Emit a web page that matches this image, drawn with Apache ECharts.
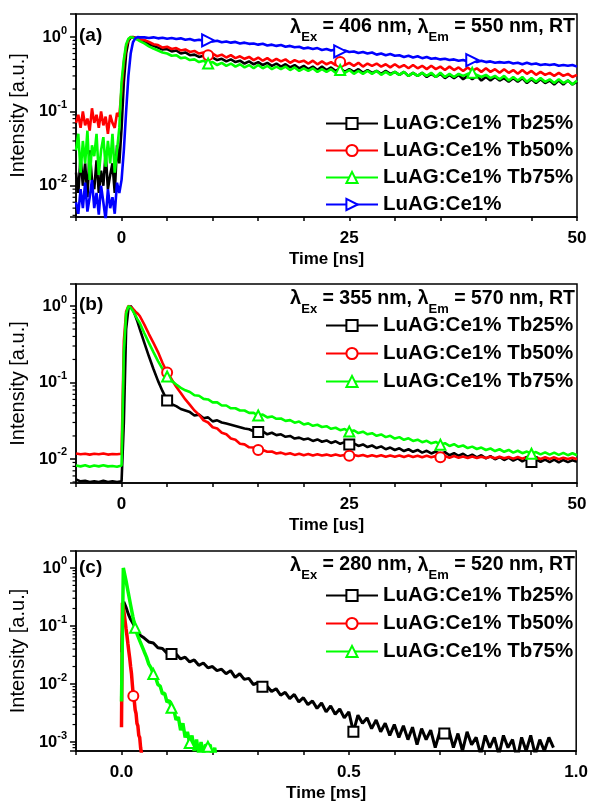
<!DOCTYPE html>
<html>
<head>
<meta charset="utf-8">
<script src="https://cdn.jsdelivr.net/npm/echarts@6/dist/echarts.min.js"></script>
<style>html,body{margin:0;padding:0;background:#fff}#chart{width:591px;height:803px}</style>
</head>
<body>
<div id="chart"></div>
<script>
// ---------------- DATA ----------------
const names4 = ['LuAG:Ce1% Tb25%', 'LuAG:Ce1% Tb50%', 'LuAG:Ce1% Tb75%', 'LuAG:Ce1%'];
const annotations = [
  ['406', '550'],
  ['355', '570'],
  ['280', '520']
];
const panelLabels = ['(a)', '(b)', '(c)'];
const xTitles = ['Time [ns]', 'Time [us]', 'Time [ms]'];
const yTitle = 'Intensity [a.u.]';
const minorTickVals = [0.0008,0.0009,0.002,0.003,0.004,0.005,0.006,0.007,0.008,0.009,
  0.02,0.03,0.04,0.05,0.06,0.07,0.08,0.09,0.2,0.3,0.4,0.5,0.6,0.7,0.8,0.9];

// Panel (a): time in ns
const timeA = [-5,-4.75,-4.5,-4.25,-4,-3.75,-3.5,-3.25,-3,-2.75,-2.5,-2.25,-2,-1.75,-1.5,-1.25,-1,-0.75,-0.5,-0.25,
  0,0.25,0.5,0.75,1,1.25,1.5,1.75,2,
  2.5,3,3.5,4,4.5,5,5.5,6,6.5,7,
  7.5,8,8.5,9,9.5,10,10.5,11,11.5,12,
  12.5,13,13.5,14,14.5,15,15.5,16,16.5,17,
  17.5,18,18.5,19,19.5,20,20.5,21,21.5,22,
  22.5,23,23.5,24,24.5,25,25.5,26,26.5,27,
  27.5,28,28.5,29,29.5,30,30.5,31,31.5,32,
  32.5,33,33.5,34,34.5,35,35.5,36,36.5,37,
  37.5,38,38.5,39,39.5,40,40.5,41,41.5,42,
  42.5,43,43.5,44,44.5,45,45.5,46,46.5,47,
  47.5,48,48.5,49,49.5,50];
const aBlack = [0.015,0.008,0.025,0.01,0.02,0.007,0.03,0.012,0.009,0.022,0.008,0.016,0.01,0.028,0.009,0.014,0.02,0.008,0.035,0.02,
  0.06,0.25,0.6,0.88,0.98,1.0,0.98,0.95,0.92,
  0.86,0.80,0.76,0.72,0.68,0.69,0.64,0.66,0.60,0.62,
  0.57,0.58,0.54,0.56,0.51,0.53,0.49,0.51,0.47,0.50,
  0.46,0.48,0.44,0.47,0.43,0.46,0.42,0.45,0.41,0.44,
  0.40,0.43,0.39,0.42,0.38,0.41,0.37,0.40,0.36,0.40,
  0.36,0.39,0.35,0.38,0.34,0.37,0.34,0.37,0.33,0.36,
  0.33,0.35,0.32,0.35,0.32,0.34,0.31,0.34,0.30,0.33,
  0.30,0.33,0.29,0.32,0.29,0.32,0.28,0.31,0.28,0.31,
  0.27,0.30,0.27,0.30,0.26,0.29,0.26,0.29,0.26,0.28,
  0.25,0.28,0.25,0.28,0.24,0.27,0.24,0.27,0.24,0.26,
  0.23,0.26,0.23,0.26,0.23,0.25];
const aRed = [0.07,0.09,0.06,0.1,0.065,0.08,0.055,0.11,0.07,0.09,0.06,0.1,0.065,0.085,0.05,0.09,0.07,0.06,0.095,0.085,
  0.2,0.45,0.75,0.92,1.0,0.99,0.97,0.95,0.93,
  0.91,0.86,0.80,0.78,0.72,0.74,0.69,0.71,0.66,0.68,
  0.63,0.65,0.60,0.62,0.57,0.60,0.55,0.58,0.53,0.57,
  0.52,0.55,0.51,0.54,0.49,0.53,0.48,0.52,0.47,0.51,
  0.47,0.50,0.45,0.49,0.46,0.48,0.44,0.48,0.43,0.47,
  0.43,0.46,0.42,0.46,0.42,0.45,0.41,0.45,0.40,0.44,
  0.41,0.44,0.40,0.43,0.39,0.43,0.39,0.42,0.38,0.42,
  0.38,0.41,0.37,0.41,0.37,0.40,0.36,0.40,0.36,0.39,
  0.35,0.39,0.35,0.38,0.34,0.38,0.34,0.37,0.33,0.37,
  0.33,0.36,0.32,0.36,0.32,0.35,0.31,0.34,0.31,0.33,
  0.30,0.33,0.30,0.32,0.29,0.31];
const aGreen = [0.03,0.05,0.015,0.04,0.02,0.055,0.012,0.035,0.025,0.05,0.014,0.03,0.045,0.018,0.04,0.02,0.05,0.015,0.03,0.06,
  0.25,0.5,0.8,0.95,1.0,0.98,0.95,0.92,0.88,
  0.82,0.75,0.70,0.66,0.62,0.60,0.56,0.57,0.52,0.53,
  0.49,0.50,0.46,0.48,0.44,0.46,0.42,0.45,0.41,0.44,
  0.40,0.43,0.39,0.42,0.38,0.42,0.38,0.41,0.37,0.40,
  0.37,0.40,0.36,0.39,0.35,0.38,0.35,0.38,0.34,0.37,
  0.34,0.37,0.33,0.36,0.33,0.36,0.32,0.35,0.32,0.35,
  0.32,0.35,0.31,0.34,0.31,0.34,0.31,0.34,0.30,0.33,
  0.30,0.33,0.30,0.33,0.29,0.33,0.29,0.32,0.29,0.32,
  0.30,0.32,0.33,0.31,0.29,0.31,0.28,0.30,0.27,0.30,
  0.26,0.29,0.26,0.29,0.25,0.28,0.25,0.28,0.25,0.27,
  0.24,0.27,0.24,0.26,0.23,0.26];
const aBlue = [0.006,0.0042,0.009,0.005,0.011,0.0045,0.007,0.012,0.005,0.008,0.0041,0.01,0.006,0.0035,0.009,0.005,0.007,0.0042,0.011,0.008,
  0.012,0.03,0.1,0.3,0.6,0.85,0.96,1.0,0.99,
  0.99,0.97,0.99,0.96,0.98,0.95,0.97,0.94,0.96,0.92,
  0.94,0.90,0.92,0.89,0.90,0.87,0.89,0.85,0.87,0.84,
  0.86,0.82,0.84,0.81,0.82,0.79,0.81,0.77,0.79,0.76,
  0.78,0.74,0.76,0.73,0.74,0.70,0.72,0.69,0.71,0.67,
  0.69,0.66,0.68,0.64,0.66,0.63,0.64,0.61,0.63,0.60,
  0.62,0.58,0.60,0.57,0.59,0.56,0.57,0.54,0.56,0.53,
  0.55,0.52,0.54,0.51,0.52,0.50,0.51,0.49,0.50,0.48,
  0.49,0.47,0.49,0.46,0.48,0.46,0.47,0.45,0.46,0.45,
  0.46,0.44,0.45,0.43,0.45,0.43,0.44,0.42,0.43,0.42,
  0.43,0.41,0.42,0.41,0.42,0.40];
const marksA = [[], [9.5, 24], [9.5, 24, 38.5], [9.5, 24, 38.5]];

// Panel (b): time in us
const timeB = [-5,-4.5,-4,-3.5,-3,-2.5,-2,-1.5,-1,-0.5,0,
  0.25,0.5,0.75,1,1.25,1.5,1.75,
  2,2.5,3,3.5,4,4.5,5,5.5,6,6.5,
  7,7.5,8,8.5,9,9.5,10,10.5,11,11.5,
  12,12.5,13,13.5,14,14.5,15,15.5,16,16.5,
  17,17.5,18,18.5,19,19.5,20,20.5,21,21.5,
  22,22.5,23,23.5,24,24.5,25,25.5,26,26.5,
  27,27.5,28,28.5,29,29.5,30,30.5,31,31.5,
  32,32.5,33,33.5,34,34.5,35,35.5,36,36.5,
  37,37.5,38,38.5,39,39.5,40,40.5,41,41.5,
  42,42.5,43,43.5,44,44.5,45,45.5,46,46.5,
  47,47.5,48,48.5,49,49.5,50];
const bBlack = [0.0054,0.0051,0.0052,0.005,0.0051,0.005,0.0052,0.005,0.0051,0.005,0.0051,
  0.03,0.5,0.92,1.0,0.9,0.75,0.62,
  0.50,0.33,0.22,0.15,0.105,0.077,0.058,0.052,0.049,0.045,
  0.043,0.041,0.037,0.038,0.034,0.035,0.031,0.032,0.030,0.029,
  0.028,0.027,0.026,0.025,0.0245,0.023,0.0225,0.023,0.021,0.022,
  0.0205,0.021,0.0195,0.020,0.0185,0.019,0.018,0.0185,0.0172,0.018,
  0.0168,0.0175,0.0162,0.017,0.0158,0.0166,0.0155,0.016,0.0148,0.0155,
  0.0143,0.015,0.0139,0.0146,0.0134,0.0141,0.0131,0.0138,0.0127,0.0134,
  0.0124,0.0131,0.0121,0.0128,0.0118,0.0125,0.0116,0.0123,0.0112,0.0119,
  0.011,0.0117,0.0107,0.0114,0.0105,0.0112,0.0102,0.0109,0.0099,0.0106,
  0.0097,0.0104,0.0095,0.0102,0.0093,0.0100,0.0091,0.0099,0.0092,0.0098,
  0.0091,0.0098,0.0090,0.0097,0.0091,0.0096,0.0092];
const bRed = [0.0118,0.0115,0.0117,0.0114,0.0117,0.0115,0.0118,0.0114,0.0116,0.0115,0.0117,
  0.35,0.85,1.0,0.97,0.92,0.85,0.8,
  0.74,0.57,0.43,0.33,0.25,0.18,0.135,0.11,0.088,0.073,
  0.060,0.051,0.043,0.038,0.032,0.030,0.026,0.025,0.022,0.021,
  0.0185,0.0178,0.0158,0.0155,0.0142,0.0141,0.0131,0.0131,0.0124,0.0125,
  0.0118,0.0121,0.0115,0.0119,0.0113,0.0117,0.0112,0.0116,0.0111,0.0115,
  0.0111,0.0114,0.0110,0.0114,0.0110,0.0113,0.0110,0.0113,0.0109,0.0113,
  0.0108,0.0112,0.0108,0.0112,0.0107,0.0111,0.0107,0.0111,0.0106,0.0111,
  0.0106,0.0110,0.0105,0.0110,0.0105,0.0109,0.0105,0.0109,0.0104,0.0109,
  0.0104,0.0108,0.0103,0.0108,0.0103,0.0107,0.0103,0.0107,0.0102,0.0107,
  0.0102,0.0106,0.0101,0.0106,0.0101,0.0106,0.0100,0.0105,0.0100,0.0105,
  0.0100,0.0105,0.0099,0.0104,0.0100,0.0104,0.0099];
const bGreen = [0.0082,0.0080,0.0083,0.0079,0.0082,0.0080,0.0083,0.0080,0.0081,0.0079,0.0082,
  0.25,0.8,1.0,0.95,0.86,0.76,0.67,
  0.60,0.44,0.33,0.25,0.19,0.15,0.12,0.105,0.094,0.085,
  0.079,0.075,0.068,0.067,0.061,0.060,0.055,0.055,0.050,0.050,
  0.046,0.046,0.043,0.043,0.040,0.040,0.037,0.038,0.035,0.036,
  0.0335,0.0338,0.0315,0.0322,0.0298,0.0308,0.0283,0.0292,0.0271,0.0280,
  0.0262,0.0268,0.0248,0.0256,0.0238,0.0246,0.0228,0.0236,0.0218,0.0227,
  0.0210,0.0217,0.0201,0.0209,0.0193,0.0201,0.0185,0.0193,0.0178,0.0186,
  0.0172,0.0179,0.0166,0.0173,0.0160,0.0167,0.0154,0.0161,0.0148,0.0156,
  0.0144,0.0150,0.0139,0.0145,0.0135,0.0141,0.0131,0.0137,0.0127,0.0134,
  0.0124,0.0131,0.0121,0.0128,0.0119,0.0125,0.0117,0.0123,0.0115,0.0122,
  0.0114,0.0121,0.0113,0.0120,0.0112,0.0119,0.0112];
const marksB = [[5, 15, 25, 45], [5, 15, 25, 35], [5, 15, 25, 35, 45]];

// Panel (c): time in ms
const timeCBlack = [0,0.005,0.01,0.015,
  0.02,0.03,0.04,0.05,0.06,0.07,0.08,0.09,0.10,0.11,
  0.12,0.13,0.14,0.15,0.16,0.17,0.18,0.19,0.20,0.21,
  0.22,0.23,0.24,0.25,0.26,0.27,0.28,0.29,0.30,0.31,
  0.32,0.33,0.34,0.35,0.36,0.37,0.38,0.39,0.40,0.41,
  0.42,0.43,0.44,0.45,0.46,0.47,0.48,0.49,0.50,0.51,
  0.52,0.53,0.54,0.55,0.56,0.57,0.58,0.59,0.60,0.61,
  0.62,0.63,0.64,0.65,0.66,0.67,0.68,0.69,0.70,0.71,
  0.72,0.73,0.74,0.75,0.76,0.77,0.78,0.79,0.80,0.81,
  0.82,0.83,0.84,0.85,0.86,0.87,0.88,0.89,0.90,0.91,
  0.92,0.93,0.94,0.95];
const cBlack = [0.035,0.26,0.21,0.16,
  0.13,0.095,0.07,0.062,0.053,0.051,0.042,0.041,0.034,0.033,
  0.033,0.027,0.029,0.024,0.026,0.021,0.023,0.019,0.020,0.017,
  0.018,0.015,0.017,0.013,0.015,0.012,0.0125,0.0098,0.0105,0.009,
  0.0092,0.0074,0.0083,0.0064,0.0072,0.0056,0.0066,0.0049,0.0058,0.0044,
  0.0051,0.0038,0.0047,0.0033,0.0042,0.003,0.0037,0.0026,0.0033,0.0015,
  0.0029,0.0021,0.0026,0.0017,0.0024,0.0015,0.0021,0.0013,0.002,0.0012,
  0.0019,0.0011,0.0018,0.0009,0.0017,0.0011,0.0016,0.0008,0.0015,0.0014,
  0.0016,0.0008,0.0014,0.0007,0.0015,0.0009,0.0012,0.0006,0.0013,0.0008,
  0.0012,0.0006,0.0013,0.0008,0.0011,0.0005,0.0012,0.0007,0.0013,0.0006,
  0.0011,0.0007,0.0012,0.0008];
const timeCRed = [0,0.002,0.004,0.006,0.008,0.01,0.012,0.014,0.016,0.018,0.02,0.022,0.024,0.026,
  0.028,0.03,0.032,0.034,0.036,0.038,0.04,0.042,0.044,0.046,0.048,0.05];
const cRed = [0.0018,0.25,0.21,0.16,0.12,0.09,0.068,0.05,0.037,0.028,0.02,0.015,0.0095,0.0062,
  0.0052,0.0036,0.0031,0.0021,0.0019,0.0013,0.0012,0.0008,0.0008,0.0005,0.0005,0.0003];
const timeCGreen = [0,0.004,0.01,0.015,0.02,0.025,0.03,0.035,0.04,0.045,0.05,0.055,0.06,0.065,0.07,
  0.075,0.08,0.085,0.09,0.095,0.1,0.105,0.11,0.115,0.12,0.125,0.13,0.135,0.14,0.145,0.15,
  0.155,0.16,0.165,0.17,0.175,0.18,0.185,0.19,0.195,0.2,0.205,0.21];
const cGreen = [0.005,1.0,0.6,0.37,0.23,0.145,0.093,0.07,0.056,0.045,0.036,0.029,0.022,0.019,0.0149,
  0.013,0.0098,0.0092,0.0068,0.0069,0.0049,0.0052,0.0039,0.0036,0.0024,0.0027,0.0016,0.0021,0.0012,0.0015,0.00096,
  0.0013,0.0007,0.0011,0.0006,0.001,0.0006,0.0009,0.00083,0.0009,0.0005,0.0008,0.0004];
const marksC = [[0.11, 0.31, 0.51, 0.71], [0.026], [0.03, 0.07, 0.11, 0.15, 0.19]];

// ---------------- STYLE / LAYOUT ----------------
const FF = "'Liberation Sans', Arial, Helvetica, sans-serif";
const colors = ['#000000', '#ff0000', '#00ff00', '#0000ff'];
const symbols = ['emptyRect', 'emptyCircle', 'emptyTriangle', 'emptyTriangle'];
const rotations = [0, 0, 0, -90];
const grids = [
  { left: 74, right: 14, top: 14, height: 203 },
  { left: 74, right: 14, top: 284, height: 199 },
  { left: 74, right: 14, top: 551, height: 200 }
];
const xCfg = [
  { min: -5, max: 50, interval: 5, fmt: v => (Math.round(v) % 25 === 0 ? String(Math.round(v)) : '') },
  { min: -5, max: 50, interval: 5, fmt: v => (Math.round(v) % 25 === 0 ? String(Math.round(v)) : '') },
  { min: -0.1, max: 1.0, interval: 0.1, fmt: v => { const r = Math.round(v * 10); return r % 5 === 0 ? (r / 10).toFixed(1) : ''; } }
];
const yCfg = [
  { min: 0.0038, max: 2.04 },
  { min: 0.00485, max: 1.94 },
  { min: 0.0007, max: 1.96 }
];

function yFmt(v) {
  const l = Math.log10(v);
  const e = Math.round(l);
  if (Math.abs(l - e) > 1e-6) return '';
  return '{b|10}{s|' + e + '}';
}

function lineSeries(name, times, vals, marks, k, gi, w) {
  const data = times.map((t, i) => marks.indexOf(t) >= 0 ? [t, vals[i]] : { value: [t, vals[i]], symbol: 'none' });
  return {
    type: 'line', name, xAxisIndex: gi, yAxisIndex: gi, data,
    color: colors[k], symbol: symbols[k], symbolSize: k === 3 ? 12 : 10, symbolRotate: rotations[k],
    showSymbol: true, showAllSymbol: true,
    lineStyle: { color: colors[k], width: w || 2.6 },
    itemStyle: { color: colors[k], borderWidth: 1.5 },
    emphasis: { disabled: true }, animation: false, clip: true
  };
}

function minorSeries(gi) {
  const xmin = xCfg[gi].min;
  return {
    type: 'custom', xAxisIndex: gi, yAxisIndex: gi, silent: true, clip: false, animation: false,
    data: minorTickVals.filter(v => v > yCfg[gi].min && v < yCfg[gi].max).map(v => [xmin, v]),
    renderItem: (params, api) => {
      const p = api.coord([api.value(0), api.value(1)]);
      return { type: 'line', shape: { x1: p[0] - 3.5, y1: p[1], x2: p[0], y2: p[1] }, style: { stroke: '#000', lineWidth: 1.2 } };
    }
  };
}

const series = [
  lineSeries(names4[0], timeA, aBlack, marksA[0], 0, 0),
  lineSeries(names4[1], timeA, aRed, marksA[1], 1, 0),
  lineSeries(names4[2], timeA, aGreen, marksA[2], 2, 0),
  lineSeries(names4[3], timeA, aBlue, marksA[3], 3, 0),
  lineSeries(names4[0], timeB, bBlack, marksB[0], 0, 1),
  lineSeries(names4[1], timeB, bRed, marksB[1], 1, 1),
  lineSeries(names4[2], timeB, bGreen, marksB[2], 2, 1),
  lineSeries(names4[0], timeCBlack, cBlack, marksC[0], 0, 2, 3),
  lineSeries(names4[1], timeCRed, cRed, marksC[1], 1, 2, 3.5),
  lineSeries(names4[2], timeCGreen, cGreen, marksC[2], 2, 2, 3.5),
  minorSeries(0), minorSeries(1), minorSeries(2)
];

const axisLineStyle = { color: '#000', width: 1.5 };
const xAxes = xCfg.map((c, i) => ({
  type: 'value', gridIndex: i, min: c.min, max: c.max, interval: c.interval,
  axisLine: { show: true, onZero: false, lineStyle: axisLineStyle },
  axisTick: { show: true, inside: false, length: 4, lineStyle: { color: '#000', width: 1.5 } },
  axisLabel: { formatter: c.fmt, fontSize: 17, fontWeight: 'bold', fontFamily: FF, color: '#000', margin: 13 },
  splitLine: { show: false },
  name: xTitles[i], nameLocation: 'middle', nameGap: 34,
  nameTextStyle: { fontSize: 17, fontWeight: 'bold', fontFamily: FF, color: '#000' }
}));
const yAxes = yCfg.map((c, i) => ({
  type: 'log', logBase: 10, gridIndex: i, min: c.min, max: c.max,
  axisLine: { show: true, onZero: false, lineStyle: axisLineStyle },
  axisTick: { show: true, inside: false, length: 6, lineStyle: { color: '#000', width: 1.5 } },
  axisLabel: {
    formatter: yFmt, margin: 9, color: '#000',
    rich: {
      b: { fontSize: 16.5, fontWeight: 'bold', fontFamily: FF, lineHeight: 24, color: '#000' },
      s: { fontSize: 11, fontWeight: 'bold', fontFamily: FF, verticalAlign: 'top', color: '#000' }
    }
  },
  splitLine: { show: false },
  name: yTitle, nameLocation: 'middle', nameGap: 43,
  nameTextStyle: { fontSize: 20, fontWeight: 'normal', fontFamily: FF, color: '#000' }
}));

const legendTops = [113, 315, 585];
const legendGaps = [6, 7, 7];
const legends = [names4, names4.slice(0, 3), names4.slice(0, 3)].map((d, i) => ({
  data: d, orient: 'vertical', left: 325, top: legendTops[i], padding: 0,
  itemWidth: 52, itemHeight: 14, itemGap: legendGaps[i], selectedMode: false,
  textStyle: { fontSize: 20.5, fontWeight: 'bold', fontFamily: FF, color: '#000', lineHeight: 20 }
}));

const annY = [27, 298.5, 565];
const labY = [36, 305, 568];
const graphics = [];
annotations.forEach((a, i) => {
  graphics.push({
    type: 'text', x: 575, y: annY[i], silent: true,
    style: {
      text: '{l|λ}{s|Ex}{m| = ' + a[0] + ' nm, }{l|λ}{s|Em}{m| = ' + a[1] + ' nm, RT}',
      align: 'right', verticalAlign: 'middle',
      rich: {
        m: { fontSize: 19.5, fontWeight: 'bold', fontFamily: FF, lineHeight: 34, fill: '#000', color: '#000' },
        l: { fontSize: 20, fontWeight: 'bold', fontFamily: FF, lineHeight: 34, fill: '#000', color: '#000' },
        s: { fontSize: 13, fontWeight: 'bold', fontFamily: FF, verticalAlign: 'bottom', fill: '#000', color: '#000' }
      }
    }
  });
  graphics.push({
    type: 'text', x: 79, y: labY[i], silent: true,
    style: { text: panelLabels[i], fontSize: 19, fontWeight: 'bold', fontFamily: FF, fill: '#000', align: 'left', verticalAlign: 'middle' }
  });
});

const chart = echarts.init(document.getElementById('chart'), null, { renderer: 'canvas' });
chart.setOption({
  backgroundColor: '#fff',
  animation: false,
  grid: grids.map(g => Object.assign({ show: true, borderColor: '#000', borderWidth: 1.5, backgroundColor: 'transparent' }, g)),
  xAxis: xAxes,
  yAxis: yAxes,
  legend: legends,
  series: series,
  graphic: graphics
});
</script>
</body>
</html>
